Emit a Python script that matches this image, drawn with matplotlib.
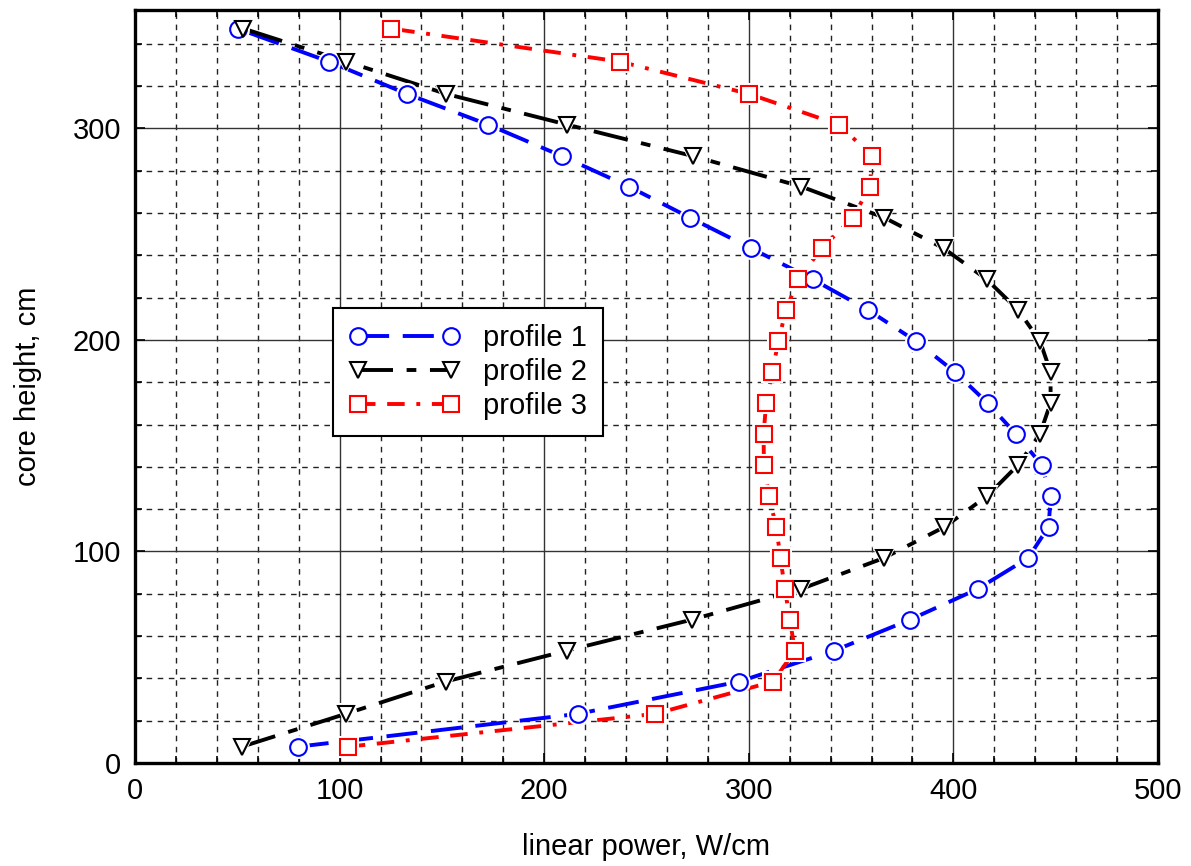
import matplotlib
matplotlib.use("Agg")
import matplotlib.pyplot as plt
from matplotlib.ticker import MultipleLocator
from matplotlib.lines import Line2D

plt.rcParams['font.family'] = ['Liberation Sans', 'DejaVu Sans']

# core height (cm) of each measurement point
height = [7.7, 23.2, 38.5, 53.1, 67.8, 82.3, 96.9, 111.6, 126.3, 141.0, 155.5, 170.2,
          184.8, 199.5, 214.1, 228.7, 243.3, 257.8, 272.5, 287.0, 301.8, 316.3, 331.6, 347.2]

# linear power (W/cm)
profile1 = [79.5, 216.3, 295.3, 341.7, 378.9, 411.9, 436.5, 446.5, 447.6, 443.1, 430.6, 416.7,
            400.8, 381.6, 358.4, 331.2, 301.2, 271.3, 241.4, 208.5, 172.6, 133.0, 94.8, 50.1]
profile2 = [52.2, 102.9, 151.8, 211.0, 272.3, 325.6, 366.0, 395.6, 416.6, 431.7, 442.3, 447.5,
            447.5, 442.3, 431.7, 416.2, 395.3, 366.3, 325.7, 272.5, 211.2, 152.2, 103.3, 53.0]
profile3 = [104.0, 254.1, 311.9, 322.5, 320.1, 317.6, 315.5, 313.4, 309.8, 307.4, 307.2, 308.5,
            311.4, 314.5, 318.1, 324.2, 335.6, 350.8, 359.2, 360.3, 344.0, 300.2, 237.0, 125.3]

labels = ['profile 1', 'profile 2', 'profile 3']
colors = ['#0000ff', '#000000', '#ff0000']
markers = ['o', 'v', 's']
dashes = [(8, 3.5), (9, 3.5, 2.5, 3.5), (4.5, 3, 4.5, 3, 1, 3)]

x_ticks = [0, 100, 200, 300, 400, 500]
y_ticks = [0, 100, 200, 300]

fig = plt.figure(figsize=(11.91, 8.66), dpi=100)
ax = fig.add_axes([135 / 1191, 1 - 763 / 866, (1158 - 135) / 1191, (763 - 10) / 866])

series = [profile1, profile2, profile3]
ms = 12
for xs, c, m, d in zip(series, colors, markers, dashes):
    ax.plot(xs, height, color=c, lw=2.8, dashes=d, zorder=3, solid_capstyle='butt',
            dash_capstyle='butt')
for xs, m in zip(series, markers):
    ax.plot(xs, height, ls='none', marker=m, ms=ms + 3, mfc='white', mec='white',
            mew=1.5, zorder=4)
for xs, c, m in zip(series, colors, markers):
    ax.plot(xs, height, ls='none', marker=m, ms=ms, mfc='white', mec=c, mew=1.5, zorder=5)

ax.set_xlim(0, 500)
ax.set_ylim(0, 356)
ax.set_xticks(x_ticks)
ax.set_yticks(y_ticks)
ax.xaxis.set_minor_locator(MultipleLocator(20))
ax.yaxis.set_minor_locator(MultipleLocator(20))

ax.grid(True, which='major', color='#333333', lw=1.0, ls='-', zorder=1)
ax.grid(True, which='minor', color='#222222', lw=1.0, ls=(0, (4, 4)), zorder=1)
ax.set_axisbelow(True)

ax.tick_params(which='both', direction='in', top=True, right=True, labelsize=21, width=1.2)
ax.tick_params(which='major', length=7, pad=10)
ax.tick_params(which='minor', length=5)
for s in ax.spines.values():
    s.set_linewidth(2.4)

ax.set_xlabel('linear power, W/cm', fontsize=21, labelpad=20)
ax.set_ylabel('core height, cm', fontsize=21, labelpad=22)

handles = [Line2D([], [], color=c, lw=2.8, dashes=d, marker=m, ms=ms, mfc='white', mec=c, mew=1.5)
           for c, m, d in zip(colors, markers, dashes)]
leg = ax.legend(handles, labels, loc='upper left', bbox_to_anchor=(0.1935, 0.604),
                borderaxespad=0, fontsize=21, numpoints=2, handlelength=3.8,
                handletextpad=0.8, frameon=True, fancybox=False, edgecolor='black',
                framealpha=1, borderpad=0.55, labelspacing=0.2)
leg.get_frame().set_linewidth(1.5)
leg.set_zorder(10)

fig.savefig('out.png', dpi=100)
